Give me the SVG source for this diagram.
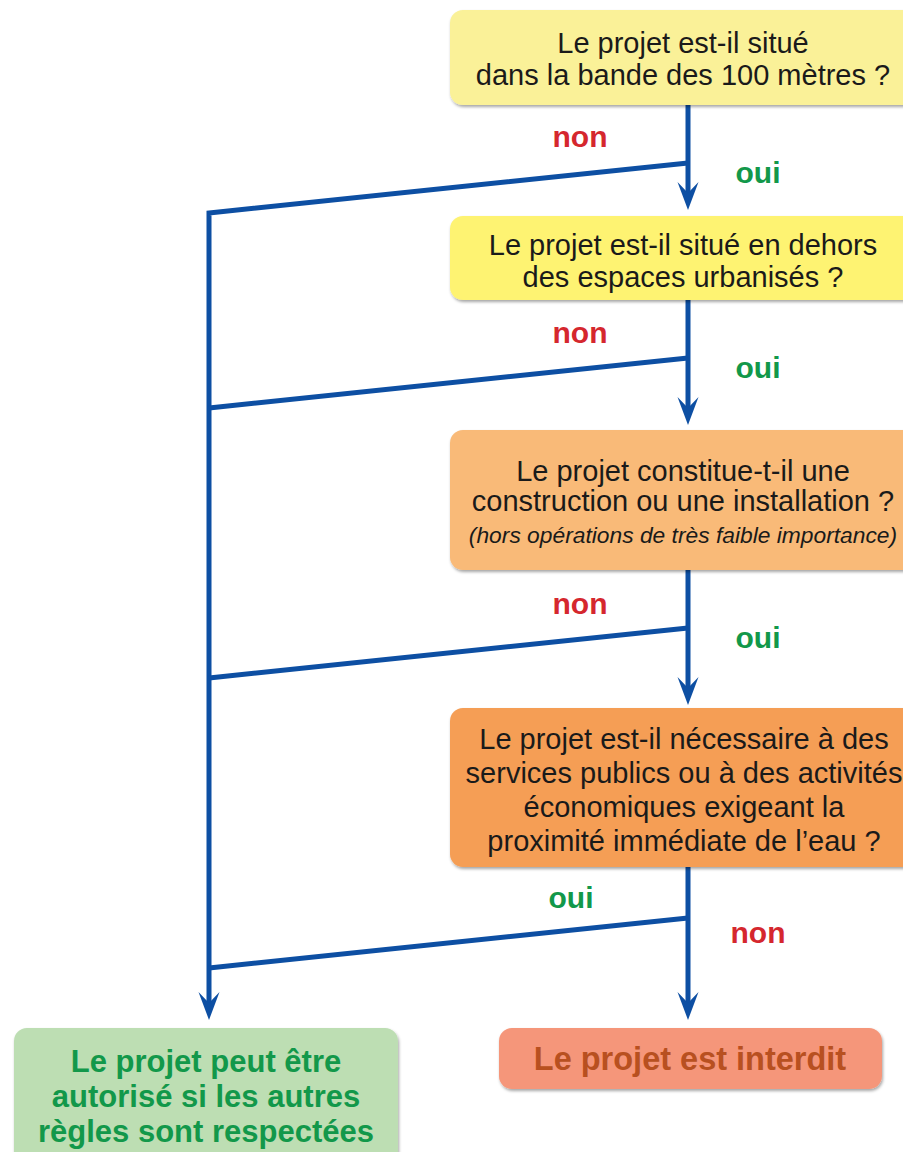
<svg xmlns="http://www.w3.org/2000/svg" width="903" height="1152" viewBox="0 0 903 1152">
<style>
.q{font-family:"Liberation Sans",Arial,sans-serif;font-size:29px;fill:#1a1a1a;text-anchor:middle}
.qi{font-family:"Liberation Sans",Arial,sans-serif;font-size:22.8px;font-style:italic;fill:#1a1a1a;text-anchor:middle}
.lbl{font-family:"Liberation Sans",Arial,sans-serif;font-size:30px;font-weight:bold;text-anchor:middle}
.res{font-size:31px}
.non{fill:#D5272E}
.oui{fill:#12984A}
.ln{fill:none;stroke:#0D4FA3;stroke-width:5;stroke-linejoin:miter}
.ah{fill:#0D4FA3}
.box{filter:url(#sh)}
</style>
<defs>
<filter id="sh" x="-5%" y="-10%" width="115%" height="130%">
<feDropShadow dx="1" dy="2" stdDeviation="1.5" flood-color="#000" flood-opacity="0.35"/>
</filter>
<path id="ah" d="M0,0 L-10.5,-28 L0,-17 L10.5,-28 Z"/>
</defs>
<g id="connectors">
<path class="ln" d="M688,105 V194"/>
<path class="ln" d="M688,300 V409"/>
<path class="ln" d="M688,570 V689"/>
<path class="ln" d="M688,867 V1004"/>
<path class="ln" d="M688,163 L209,213 V1004"/>
<path class="ln" d="M688,358 L209,408"/>
<path class="ln" d="M688,628 L209,678"/>
<path class="ln" d="M688,918 L209,968"/>
<use href="#ah" class="ah" x="688" y="210"/>
<use href="#ah" class="ah" x="688" y="425"/>
<use href="#ah" class="ah" x="688" y="705"/>
<use href="#ah" class="ah" x="688" y="1020"/>
<use href="#ah" class="ah" x="209" y="1020"/>
<text class="lbl non" x="580" y="147">non</text>
<text class="lbl oui" x="758" y="183">oui</text>
<text class="lbl non" x="580" y="343">non</text>
<text class="lbl oui" x="758" y="378">oui</text>
<text class="lbl non" x="580" y="614">non</text>
<text class="lbl oui" x="758" y="648">oui</text>
<text class="lbl oui" x="571" y="908">oui</text>
<text class="lbl non" x="758" y="943">non</text>
</g>
<g id="q1">
<rect class="box" x="450" y="10" width="470" height="95" rx="13" fill="#FAF198"/>
<text class="q" x="683" y="53">Le projet est-il situé</text>
<text class="q" x="683" y="85">dans la bande des 100 mètres ?</text>
</g>
<g id="q2">
<rect class="box" x="450" y="216" width="470" height="84" rx="13" fill="#FEF372"/>
<text class="q" x="683" y="255">Le projet est-il situé en dehors</text>
<text class="q" x="683" y="287">des espaces urbanisés ?</text>
</g>
<g id="q3">
<rect class="box" x="450" y="430" width="470" height="140" rx="13" fill="#F9BA78"/>
<text class="q" x="683" y="481">Le projet constitue-t-il une</text>
<text class="q" x="683" y="511">construction ou une installation ?</text>
<text class="qi" x="683" y="543">(hors opérations de très faible importance)</text>
</g>
<g id="q4">
<rect class="box" x="450" y="708" width="470" height="159" rx="13" fill="#F59E55"/>
<text class="q" x="684" y="749">Le projet est-il nécessaire à des</text>
<text class="q" x="684" y="783">services publics ou à des activités</text>
<text class="q" x="684" y="817">économiques exigeant la</text>
<text class="q" x="684" y="851">proximité immédiate de l’eau ?</text>
</g>
<g id="ok">
<rect class="box" x="14" y="1028" width="384" height="140" rx="13" fill="#BDDEB3"/>
<text class="lbl oui res" x="206" y="1072">Le projet peut être</text>
<text class="lbl oui res" x="206" y="1107">autorisé si les autres</text>
<text class="lbl oui res" x="206" y="1142">règles sont respectées</text>
</g>
<g id="ko">
<rect class="box" x="499" y="1028" width="383" height="61" rx="13" fill="#F5967A"/>
<text class="lbl" x="690" y="1070" style="fill:#B85020;font-size:32.5px">Le projet est interdit</text>
</g>
</svg>
